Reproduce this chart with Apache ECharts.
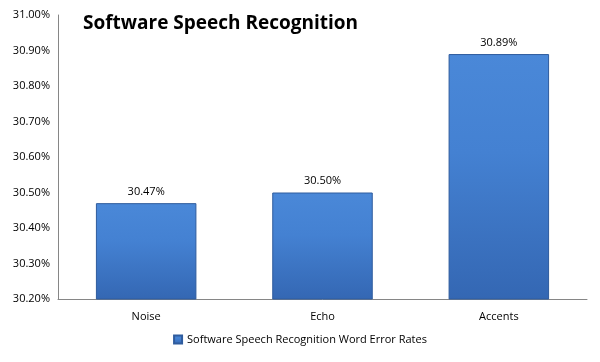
<!DOCTYPE html>
<html><head><meta charset="utf-8">
<script src="https://cdn.jsdelivr.net/npm/echarts@6/dist/echarts.min.js"></script>
<style>html,body{margin:0;padding:0;background:#fff}#c{width:600px;height:362px}</style>
</head><body><div id="c"></div>
<script>
const categories = ['Noise', 'Echo', 'Accents'];
const errorRates = [30.47, 30.50, 30.89];
const seriesName = 'Software Speech Recognition Word Error Rates';
const titleText = 'Software Speech Recognition';
const yMin = 30.2, yMax = 31.0, yStep = 0.1;

const chart = echarts.init(document.getElementById('c'));
const barColor = new echarts.graphic.LinearGradient(0, 0, 0, 1, [
  {offset: 0, color: '#4a88d8'},
  {offset: 0.4, color: '#4481d2'},
  {offset: 1, color: '#3467b3'}
]);
chart.setOption({
  animation: false,
  title: {text: titleText, left: 78, top: 9,
    textStyle: {fontFamily: 'Open Sans', fontWeight: 'bold', fontSize: 19, color: '#000'}},
  grid: {left: 58, right: 13, top: 15, bottom: 63},
  legend: {bottom: 12, left: 'center', itemWidth: 8, itemHeight: 8, itemGap: 4,
    icon: 'rect', textStyle: {fontFamily: 'Open Sans', fontSize: 11, color: '#000'},
    data: [seriesName]},
  xAxis: {type: 'category', data: categories,
    axisLine: {lineStyle: {color: '#868686'}}, axisTick: {show: false},
    axisLabel: {fontFamily: 'Open Sans', fontSize: 11, color: '#000', margin: 12}},
  yAxis: {type: 'value', min: yMin, max: yMax, interval: yStep,
    axisLine: {show: true, lineStyle: {color: '#868686'}}, axisTick: {show: false},
    splitLine: {show: false},
    axisLabel: {fontFamily: 'Open Sans', fontSize: 11, color: '#000', margin: 8,
      formatter: v => v.toFixed(2) + '%'}},
  series: [{name: seriesName, type: 'bar', data: errorRates, barWidth: '57%',
    itemStyle: {color: barColor, borderColor: '#2f5c9e', borderWidth: 1},
    label: {show: true, position: 'top', distance: 6, fontFamily: 'Open Sans', fontSize: 11, color: '#000',
      formatter: p => p.value.toFixed(2) + '%'}}]
});
</script></body></html>
